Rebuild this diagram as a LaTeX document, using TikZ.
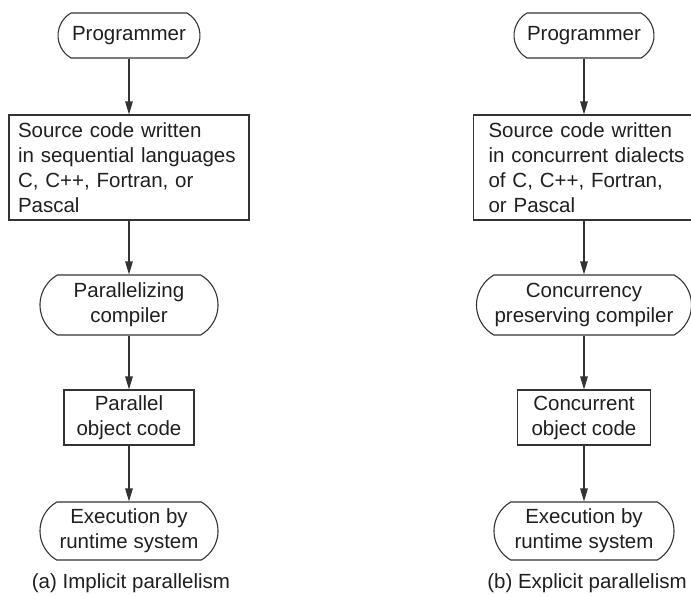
\documentclass[tikz,border=0pt]{standalone}
\usepackage{fontspec}
\setmainfont{Liberation Sans}
\usetikzlibrary{shapes.misc,arrows.meta}
\begin{document}
\begin{tikzpicture}[x=1pt,y=-1pt,
  every node/.style={font=\fontsize{20.5}{25}\selectfont, text=black!88, inner sep=0pt},
  term/.style={draw=black!80, line width=1.1pt, rounded rectangle,
    rounded rectangle arc length=120, align=center},
  stepbox/.style={draw=black!80, line width=1.1pt, rectangle, align=center},
  arr/.style={draw=black!80, line width=1.1pt, -{Triangle[length=13pt,width=7.5pt]}}]
\useasboundingbox (0,0) rectangle (691,595);

% (a) implicit parallelism
\node[term, minimum width=142, minimum height=45] (p1) at (129,35.5) {Programmer};
\node[stepbox, minimum width=240, minimum height=105, text width=222, align=left]
  (s1) at (129,167.5) {Source code written\\in sequential languages\\C, C++, Fortran, or\\Pascal};
\node[term, minimum width=178, minimum height=60] (c1) at (129,305) {Parallelizing\\compiler};
\node[stepbox, minimum width=130, minimum height=55] (o1) at (129,417.5) {Parallel\\object code};
\node[term, minimum width=178, minimum height=58] (e1) at (129,531) {Execution by\\runtime system};
\node (cap1) at (131,583) {(a) Implicit parallelism};

\draw[arr] (p1.south) -- (p1.south |- s1.north);
\draw[arr] (s1.south -| p1) -- (c1.north);
\draw[arr] (c1.south) -- (o1.north);
\draw[arr] (o1.south) -- (e1.north);

% (b) explicit parallelism
\node[term, minimum width=140, minimum height=45] (p2) at (584,35.5) {Programmer};
\node[stepbox, anchor=west, minimum height=105, inner xsep=15pt, text width=210, align=left]
  (s2) at (473,167.5) {Source code written\\in concurrent dialects\\of C, C++, Fortran,\\or Pascal};
\node[term, minimum width=215, minimum height=60] (c2) at (584,305) {Concurrency\\preserving compiler};
\node[stepbox, minimum width=133, minimum height=55] (o2) at (584,417.5) {Concurrent\\object code};
\node[term, minimum width=180, minimum height=58] (e2) at (584,531) {Execution by\\runtime system};
\node (cap2) at (587,583) {(b) Explicit parallelism};

\draw[arr] (p2.south) -- (p2.south |- s2.north);
\draw[arr] (p2.south |- s2.south) -- (c2.north);
\draw[arr] (c2.south) -- (o2.north);
\draw[arr] (o2.south) -- (e2.north);
\end{tikzpicture}
\end{document}
